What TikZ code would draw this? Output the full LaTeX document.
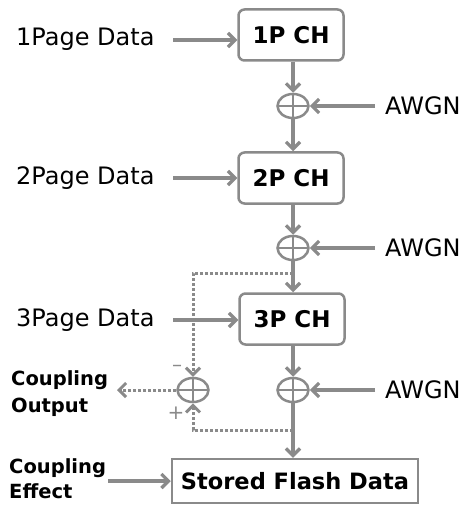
\documentclass[tikz,border=0pt]{standalone}
\usepackage{fontspec}
\setmainfont{DejaVu Sans}
\usetikzlibrary{arrows.meta,shapes.geometric}
\definecolor{lg}{RGB}{138,138,138}
\tikzset{
  lbl/.style={anchor=west,inner sep=0pt,font=\fontsize{24}{26}\selectfont},
  blbl/.style={anchor=west,inner sep=0pt,align=left,font=\fontsize{19.5}{27}\selectfont\bfseries},
  blbltight/.style={blbl,font=\fontsize{19.5}{25}\selectfont\bfseries},
  chbox/.style={draw=lg,line width=2.5pt,rounded corners=6pt,minimum width=105pt,minimum height=51pt,font=\fontsize{23}{26}\selectfont\bfseries},
  stbox/.style={draw=lg,line width=2.5pt,minimum width=246pt,minimum height=44pt,font=\fontsize{22.5}{26}\selectfont\bfseries},
  sum/.style={ellipse,draw=lg,line width=2.5pt,minimum width=31pt,minimum height=24pt,inner sep=0pt,
    path picture={\draw[lg,line width=2.5pt] (path picture bounding box.north) -- (path picture bounding box.south)
      (path picture bounding box.west) -- (path picture bounding box.east);}},
  arr/.style={draw=lg,line width=3.2pt,-{Straight Barb[length=7pt,width=14pt]}},
  darr/.style={draw=lg,line width=3pt,dotted,-{Straight Barb[length=7pt,width=14pt]}},
  sgn/.style={inner sep=0pt,text=lg,font=\fontsize{20}{22}\selectfont},
}
\begin{document}
\begin{tikzpicture}[x=1pt,y=-1pt]
\useasboundingbox (0,0) rectangle (467,505);
% boxes
\node[chbox] (b1) at (291,35) {1P CH};
\node[chbox] (b2) at (291,178) {2P CH};
\node[chbox] (b3) at (292,319) {3P CH};
\node[stbox] (st) at (295,481) {Stored Flash Data};
% summing junctions
\node[sum] (s1) at (293,106) {};
\node[sum] (s2) at (293,248) {};
\node[sum] (s3) at (293,390) {};
\node[sum] (sl) at (193,390) {};
% labels
\node[lbl] (t1) at (16,39) {1Page Data};
\node[lbl] (t2) at (16,178) {2Page Data};
\node[lbl] (t3) at (16,320) {3Page Data};
\node[lbl] (w1) at (385,106) {AWGN};
\node[lbl] (w2) at (385,248) {AWGN};
\node[lbl] (w3) at (385,390) {AWGN};
\node[blbl] (co) at (11,394) {Coupling\\Output};
\node[blbltight] (ce) at (9,479) {Coupling\\Effect};
\node[sgn] (mn) at (177,368) {–};
\node[sgn] (pl) at (176,413) {+};
% free-end coordinates
\coordinate (a1) at (173,40);
\coordinate (a2) at (173,178);
\coordinate (a3) at (173,320);
\coordinate (n1) at (375,106);
\coordinate (n2) at (375,248);
\coordinate (n3) at (375,390);
\coordinate (a4) at (108,481);
\coordinate (c1) at (293,273);
\coordinate (c2) at (293,430);
\coordinate (oe) at (117,390);
% connectors
\draw[arr] (a1) -- (b1.west |- a1);
\draw[arr] (a2) -- (b2.west |- a2);
\draw[arr] (a3) -- (b3.west |- a3);
\draw[arr] (a4) -- (st.west |- a4);
\draw[arr] (n1) -- (s1.east);
\draw[arr] (n2) -- (s2.east);
\draw[arr] (n3) -- (s3.east);
\draw[arr] (s1 |- b1.south) -- (s1.north);
\draw[arr] (s1.south) -- (s1 |- b2.north);
\draw[arr] (s2 |- b2.south) -- (s2.north);
\draw[arr] (s2.south) -- (s2 |- b3.north);
\draw[arr] (s3 |- b3.south) -- (s3.north);
\draw[arr] (s3.south) -- (s3 |- st.north);
\draw[darr] (c1) -| (sl.north);
\draw[darr] (c2) -| (sl.south);
\draw[darr] (sl.west) -- (oe);
\end{tikzpicture}
\end{document}
